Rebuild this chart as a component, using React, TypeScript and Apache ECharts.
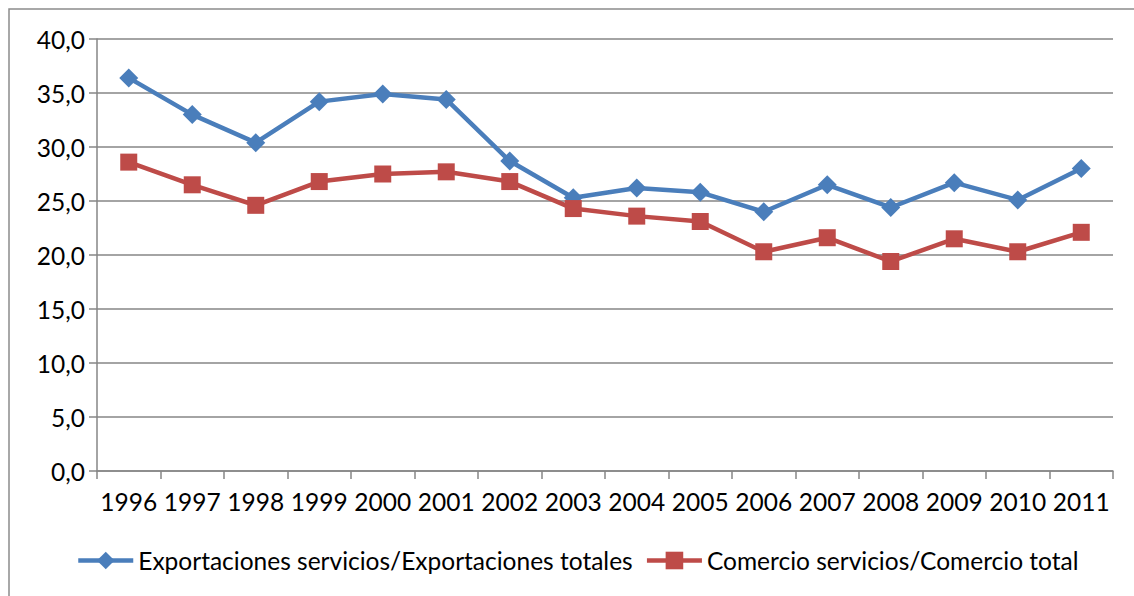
import React, { useEffect, useRef } from "react";
import * as echarts from "echarts";

const years = ["1996","1997","1998","1999","2000","2001","2002","2003","2004","2005","2006","2007","2008","2009","2010","2011"];
const exportShare = [36.4, 33.0, 30.4, 34.2, 34.9, 34.4, 28.7, 25.3, 26.2, 25.8, 24.0, 26.5, 24.4, 26.7, 25.1, 28.0];
const tradeShare = [28.6, 26.5, 24.6, 26.8, 27.5, 27.7, 26.8, 24.3, 23.6, 23.1, 20.3, 21.6, 19.4, 21.5, 20.3, 22.1];
const seriesNames = ["Exportaciones servicios/Exportaciones totales", "Comercio servicios/Comercio total"];

const FONT = "Lato";
const FS = 24.5;

export default function App() {
  const ref = useRef<HTMLDivElement>(null);
  useEffect(() => {
    if (!ref.current) return;
    const chart = echarts.init(ref.current, undefined, { renderer: "svg" });
    chart.setOption({
      animation: false,
      backgroundColor: "#ffffff",
      textStyle: { fontFamily: FONT },
      graphic: [
        {
          type: "rect",
          shape: { x: 9, y: 9, width: 1300, height: 800 },
          style: { fill: "none", stroke: "#8c8c8c", lineWidth: 1.5 },
          silent: true,
          z: -1,
        },
      ],
      grid: { left: 97, right: 21, top: 39, bottom: 125, containLabel: false },
      legend: {
        bottom: 18,
        left: 71,
        itemWidth: 55,
        itemHeight: 22,
        itemGap: 12,
        lineStyle: { width: 4.5 },
        textStyle: { fontFamily: FONT, fontSize: FS, color: "#000" },
        data: seriesNames,
      },
      xAxis: {
        type: "category",
        data: years,
        boundaryGap: true,
        axisLine: { lineStyle: { color: "#868686", width: 1.5 } },
        axisTick: { show: true, length: 8, lineStyle: { color: "#868686", width: 1.5 } },
        axisLabel: { color: "#000", fontSize: FS, fontFamily: FONT, margin: 18, interval: 0 },
        splitLine: { show: false },
      },
      yAxis: {
        type: "value",
        min: 0,
        max: 40,
        interval: 5,
        axisLine: { show: true, lineStyle: { color: "#868686", width: 1.5 } },
        axisTick: { show: true, length: 8, lineStyle: { color: "#868686", width: 1.5 } },
        axisLabel: {
          color: "#000",
          fontSize: FS,
          fontFamily: FONT,
          margin: 12,
          formatter: (v: number) => v.toFixed(1).replace(".", ","),
        },
        splitLine: { show: true, lineStyle: { color: "#868686", width: 1.5 } },
      },
      series: [
        {
          name: seriesNames[0],
          type: "line",
          data: exportShare,
          symbol: "diamond",
          symbolSize: 19,
          lineStyle: { color: "#4A7EBB", width: 4.5 },
          itemStyle: { color: "#4A7EBB" },
          z: 2,
        },
        {
          name: seriesNames[1],
          type: "line",
          data: tradeShare,
          symbol: "rect",
          symbolSize: 17,
          lineStyle: { color: "#BE4B48", width: 4.5 },
          itemStyle: { color: "#BE4B48" },
          z: 3,
        },
      ],
    });
    return () => chart.dispose();
  }, []);
  return (
    <div
      ref={ref}
      style={{ position: "absolute", left: 0, top: 0, width: 1134, height: 596 }}
    />
  );
}
